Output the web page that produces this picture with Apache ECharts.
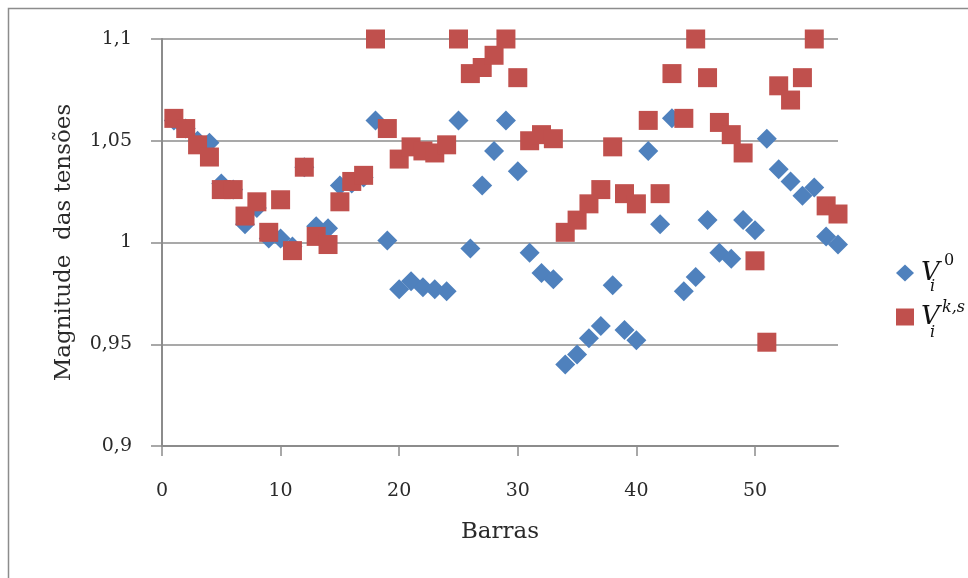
<!DOCTYPE html>
<html>
<head>
<meta charset="utf-8">
<script src="https://cdn.jsdelivr.net/npm/echarts@6/dist/echarts.min.js"></script>
<style>
  html, body { margin: 0; padding: 0; background: #ffffff; }
  #chart { width: 968px; height: 578px; }
</style>
</head>
<body>
<div id="chart"></div>
<script>
// Bus numbers (Barras) 1..57
const barras = Array.from({ length: 57 }, (_, i) => i + 1);

// Initial voltage magnitudes V_i^0
const tensaoInicial = [
  1.060, 1.056, 1.050, 1.049, 1.029, 1.026, 1.009, 1.017, 1.002, 1.002,
  0.998, 1.037, 1.008, 1.007, 1.028, 1.029, 1.032, 1.060, 1.001, 0.977,
  0.981, 0.978, 0.977, 0.976, 1.060, 0.997, 1.028, 1.045, 1.060, 1.035,
  0.995, 0.985, 0.982, 0.940, 0.945, 0.953, 0.959, 0.979, 0.957, 0.952,
  1.045, 1.009, 1.061, 0.976, 0.983, 1.011, 0.995, 0.992, 1.011, 1.006,
  1.051, 1.036, 1.030, 1.023, 1.027, 1.003, 0.999
];

// Voltage magnitudes V_i^{k,s}
const tensaoFinal = [
  1.061, 1.056, 1.048, 1.042, 1.026, 1.026, 1.013, 1.020, 1.005, 1.021,
  0.996, 1.037, 1.003, 0.999, 1.020, 1.030, 1.033, 1.100, 1.056, 1.041,
  1.047, 1.045, 1.044, 1.048, 1.100, 1.083, 1.086, 1.092, 1.100, 1.081,
  1.050, 1.053, 1.051, 1.005, 1.011, 1.019, 1.026, 1.047, 1.024, 1.019,
  1.060, 1.024, 1.083, 1.061, 1.100, 1.081, 1.059, 1.053, 1.044, 0.991,
  0.951, 1.077, 1.070, 1.081, 1.100, 1.018, 1.014
];

const xTicks = [0, 10, 20, 30, 40, 50];
const yTicks = [0.9, 0.95, 1, 1.05, 1.1];

const serif = '"DejaVu Serif", "Liberation Serif", serif';
const axisGray = '#8c8c8c';
const textColor = '#2a2a2a';

const chart = echarts.init(document.getElementById('chart'), null, { renderer: 'canvas' });

const pairs = (ys) => barras.map((b, i) => [b, ys[i]]);

chart.setOption({
  backgroundColor: '#ffffff',
  animation: false,
  grid: { left: 162, right: 130, top: 39, bottom: 132, containLabel: false },
  xAxis: {
    type: 'value',
    min: 0,
    max: 57,
    interval: 10,
    name: 'Barras',
    nameLocation: 'middle',
    nameGap: 75,
    nameTextStyle: { fontFamily: serif, fontSize: 23, color: textColor },
    axisLine: { show: true, onZero: false, lineStyle: { color: axisGray, width: 2 } },
    axisTick: { show: true, length: 10, inside: false, customValues: xTicks, lineStyle: { color: axisGray, width: 1.5 } },
    axisLabel: {
      customValues: xTicks,
      margin: 36,
      fontFamily: serif,
      fontSize: 19,
      color: textColor
    },
    splitLine: { show: false }
  },
  yAxis: {
    type: 'value',
    min: 0.9,
    max: 1.1,
    interval: 0.05,
    name: 'Magnitude  das tensões',
    nameLocation: 'middle',
    nameGap: 86,
    nameRotate: 90,
    nameTextStyle: { fontFamily: serif, fontSize: 23, color: textColor },
    axisLine: { show: true, lineStyle: { color: axisGray, width: 2 } },
    axisTick: { show: true, length: 11, inside: false, customValues: yTicks, lineStyle: { color: axisGray, width: 1.5 } },
    axisLabel: {
      customValues: yTicks,
      margin: 30,
      fontFamily: serif,
      fontSize: 19,
      color: textColor,
      formatter: (v) => String(+Number(v).toFixed(2)).replace('.', ',')
    },
    splitLine: { show: true, lineStyle: { color: axisGray, width: 1.5 } }
  },
  legend: {
    orient: 'vertical',
    left: 891,
    top: 255,
    itemGap: 18,
    itemWidth: 18,
    itemHeight: 17,
    data: [
      { name: 'V0', icon: 'diamond', itemStyle: { color: '#4f81bd' } },
      { name: 'Vks', icon: 'rect', itemStyle: { color: '#c0504d' } }
    ],
    formatter: () => '{v|V}',
    textStyle: {
      rich: {
        v: { fontFamily: serif, fontStyle: 'italic', fontSize: 26, color: '#111111', padding: [0, 0, 0, 2] }
      }
    }
  },
  graphic: [
    // outer frame
    { type: 'rect', shape: { x: 8.5, y: 8.5, width: 980, height: 600 }, style: { fill: 'none', stroke: '#8c8c8c', lineWidth: 1.5 }, silent: true },
    // scripts of the legend symbols
    { type: 'text', left: 944, top: 253, style: { text: '0', font: '16px ' + serif, fill: '#111111' } },
    { type: 'text', left: 930, top: 279, style: { text: 'i', font: 'italic 16px ' + serif, fill: '#111111' } },
    { type: 'text', left: 942, top: 300, style: { text: 'k,s', font: 'italic 16px ' + serif, fill: '#111111' } },
    { type: 'text', left: 930, top: 325, style: { text: 'i', font: 'italic 16px ' + serif, fill: '#111111' } }
  ],
  series: [
    {
      name: 'V0',
      type: 'scatter',
      symbol: 'diamond',
      symbolSize: [20, 20],
      itemStyle: { color: '#4f81bd', opacity: 1 },
      data: pairs(tensaoInicial)
    },
    {
      name: 'Vks',
      type: 'scatter',
      symbol: 'rect',
      symbolSize: [19, 19],
      itemStyle: { color: '#c0504d', opacity: 1 },
      data: pairs(tensaoFinal)
    }
  ]
});
</script>
</body>
</html>
